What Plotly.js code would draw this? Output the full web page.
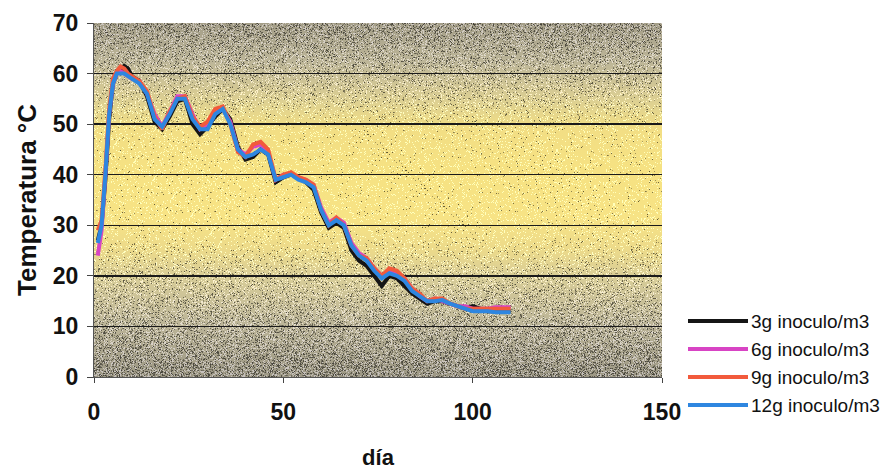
<!DOCTYPE html>
<html>
<head>
<meta charset="utf-8">
<script src="https://cdn.plot.ly/plotly-3.0.1.min.js"></script>
<style>
html,body{margin:0;padding:0;background:#fff;}
#chart{width:896px;height:476px;}
</style>
</head>
<body>
<div id="chart"></div>
<script>
// ---- data ----
const days = [1,2,3,4,5,6,7,8,9,10,12,14,16,18,20,22,24,26,28,30,32,34,36,38,40,42,44,46,48,50,52,54,56,58,60,62,64,66,68,70,72,74,76,78,80,82,84,86,88,90,92,94,96,98,100,102,104,106,108,110];
const seriesNames = ["3g inoculo/m3","6g inoculo/m3","9g inoculo/m3","12g inoculo/m3"];
const temp3g = [27,30,39,51,58,60,60.5,61.5,61,59.5, 58.5,55.5,50.5,49,51.5,54.5,55,50,48,49.5, 51.5,53,51,45.5,43,43.5,45,44,38.5,39.5, 40,39.5,38.5,37,32.5,29.5,30.5,29.5,25,23, 22,20,18,20,19.5,18,16.5,15.5,14.5,15, 15,14.5,14,13.5,14,13.5,13,13,13,13];
const temp6g = [24,29,40,52,58,60,60.5,60,59.5,59, 58.5,56,52,49.5,52.5,55.5,55.5,52,49,50, 52.5,53,50.5,45,44,45.5,46,44.5,39,40, 40,39.5,39,38,33.5,30.5,31.5,30.5,26.5,24.5, 23.5,21.5,20,21,20.5,19.5,17.5,16,15,15.5, 15,14.5,14,14,13.5,13.5,13.5,13.8,13.8,13.8];
const temp9g = [29,31,41,53,59,60.5,61.4,61,60,59.5, 58.5,56.5,51.5,49,52.5,55,55.5,51.5,49.5,50.5, 53,53.5,50,44.5,43.5,46,46.5,45,39,40, 40.5,39.5,39,38,33,30,31.5,30,26,24, 23.5,21.5,20,21.5,21,19.5,17.5,16.5,15,15.5, 15.5,14.5,14,13.5,13.5,13.5,13.5,13.5,13.5,13.5];
const temp12g = [26.5,30,40,52,58,60,60,60,59.5,59, 58,56,51,49.5,52,55,55,51,49,49, 52,53,50,45,43.5,44,45,44,39,39.5, 40,39,38.5,37.5,33,30,31,30,26,24, 23,21,19.5,20.5,20,19,17,16,15,15, 15.2,14.5,14,13.5,13,13,13,12.8,12.8,12.8];
const xTicks = [0,50,100,150];
const yTicks = [0,10,20,30,40,50,60,70];

// ---- styling ----
const colors = ["#151515","#d844c4","#f25a3c","#2e86e0"];
const allSeries = [temp3g,temp6g,temp9g,temp12g];
const FONT = 'Liberation Sans, Arial, sans-serif';

// plot-area pixel geometry
const M = {l:94, r:234, t:23, b:99};
const PW = 896 - M.l - M.r, PH = 476 - M.t - M.b;

// background texture (gray -> yellow -> gray with speckles)
function makeBg(){
  const W=PW,H=PH;
  const c=document.createElement('canvas'); c.width=W; c.height=H;
  const g=c.getContext('2d');
  const grd=g.createLinearGradient(0,0,0,H);
  grd.addColorStop(0.00,'#a49e88');
  grd.addColorStop(0.11,'#bdb698');
  grd.addColorStop(0.22,'#ddd092');
  grd.addColorStop(0.30,'#f2de84');
  grd.addColorStop(0.42,'#f6e282');
  grd.addColorStop(0.55,'#f7e385');
  grd.addColorStop(0.64,'#ecda8a');
  grd.addColorStop(0.72,'#d8cd98');
  grd.addColorStop(0.85,'#bcb598');
  grd.addColorStop(1.00,'#9c9784');
  g.fillStyle=grd; g.fillRect(0,0,W,H);
  const img=g.getImageData(0,0,W,H); const d=img.data;
  let s=12345;
  function rnd(){ s=(s*1103515245+12345)&0x7fffffff; return s/0x7fffffff; }
  for(let y=0;y<H;y++){
    const t=y/H;
    const edge=Math.min(1,Math.max(0,Math.abs(t-0.45)-0.15)/0.38);
    for(let x=0;x<W;x++){
      const i=(y*W+x)*4;
      const r=rnd();
      if(r<0.02+0.26*edge){
        const k=0.4+0.35*rnd();
        d[i]*=k; d[i+1]*=k; d[i+2]*=k;
      } else if(r>0.90-0.10*edge){
        d[i]=Math.min(255,d[i]+40); d[i+1]=Math.min(255,d[i+1]+40); d[i+2]=Math.min(255,d[i+2]+55);
      }
    }
  }
  g.putImageData(img,0,0);
  return c.toDataURL('image/png');
}

const traces = allSeries.map((ys,i)=>({
  x: days, y: ys, type:'scatter', mode:'lines',
  name: seriesNames[i], showlegend:false,
  line:{color:colors[i], width:4}
}));

// hand-drawn legend (paper coords computed from pixel layout)
const px2x = p => (p - M.l)/PW;
const px2y = p => (476 - M.b - p)/PH;
const legendRows = [321, 349, 377, 405];
const shapes = [], annotations = [];
seriesNames.forEach((nm,i)=>{
  shapes.push({type:'line', xref:'paper', yref:'paper',
    x0:px2x(688), x1:px2x(748), y0:px2y(legendRows[i]), y1:px2y(legendRows[i]),
    line:{color:colors[i], width:4}});
  annotations.push({xref:'paper', yref:'paper', x:px2x(749), y:px2y(legendRows[i]),
    xanchor:'left', yanchor:'middle', showarrow:false, text:nm,
    font:{family:FONT, size:19, color:'#111'}});
});

const layout = {
  width:896, height:476,
  margin:M,
  paper_bgcolor:'#ffffff',
  plot_bgcolor:'rgba(0,0,0,0)',
  showlegend:false,
  shapes, annotations,
  xaxis:{range:[0,150], tickvals:xTicks, ticks:'outside', ticklen:5, tickcolor:'#444',
    showgrid:false, zeroline:false, showline:true, linecolor:'#555', linewidth:1,
    tickfont:{family:FONT,size:23,color:'#111',weight:'bold'},
    ticklabelstandoff:9,
    title:{text:'<b>día</b>',font:{family:FONT,size:22,color:'#111'},standoff:26}},
  yaxis:{range:[0,70], tickvals:yTicks, ticks:'outside', ticklen:6, tickcolor:'#444',
    showgrid:true, gridcolor:'#1a1a1a', gridwidth:1.5, zeroline:false, showline:true, linecolor:'#555', linewidth:1,
    tickfont:{family:FONT,size:23,color:'#111',weight:'bold'},
    ticklabelstandoff:4,
    title:{text:'<b>Temperatura °C</b>',font:{family:FONT,size:26,color:'#111'},standoff:8}},
  images:[{source:makeBg(), xref:'paper', yref:'paper', x:0, y:1, sizex:1, sizey:1,
    sizing:'stretch', xanchor:'left', yanchor:'top', layer:'below'}]
};

Plotly.newPlot('chart', traces, layout, {displayModeBar:false, staticPlot:true});
</script>
</body>
</html>
